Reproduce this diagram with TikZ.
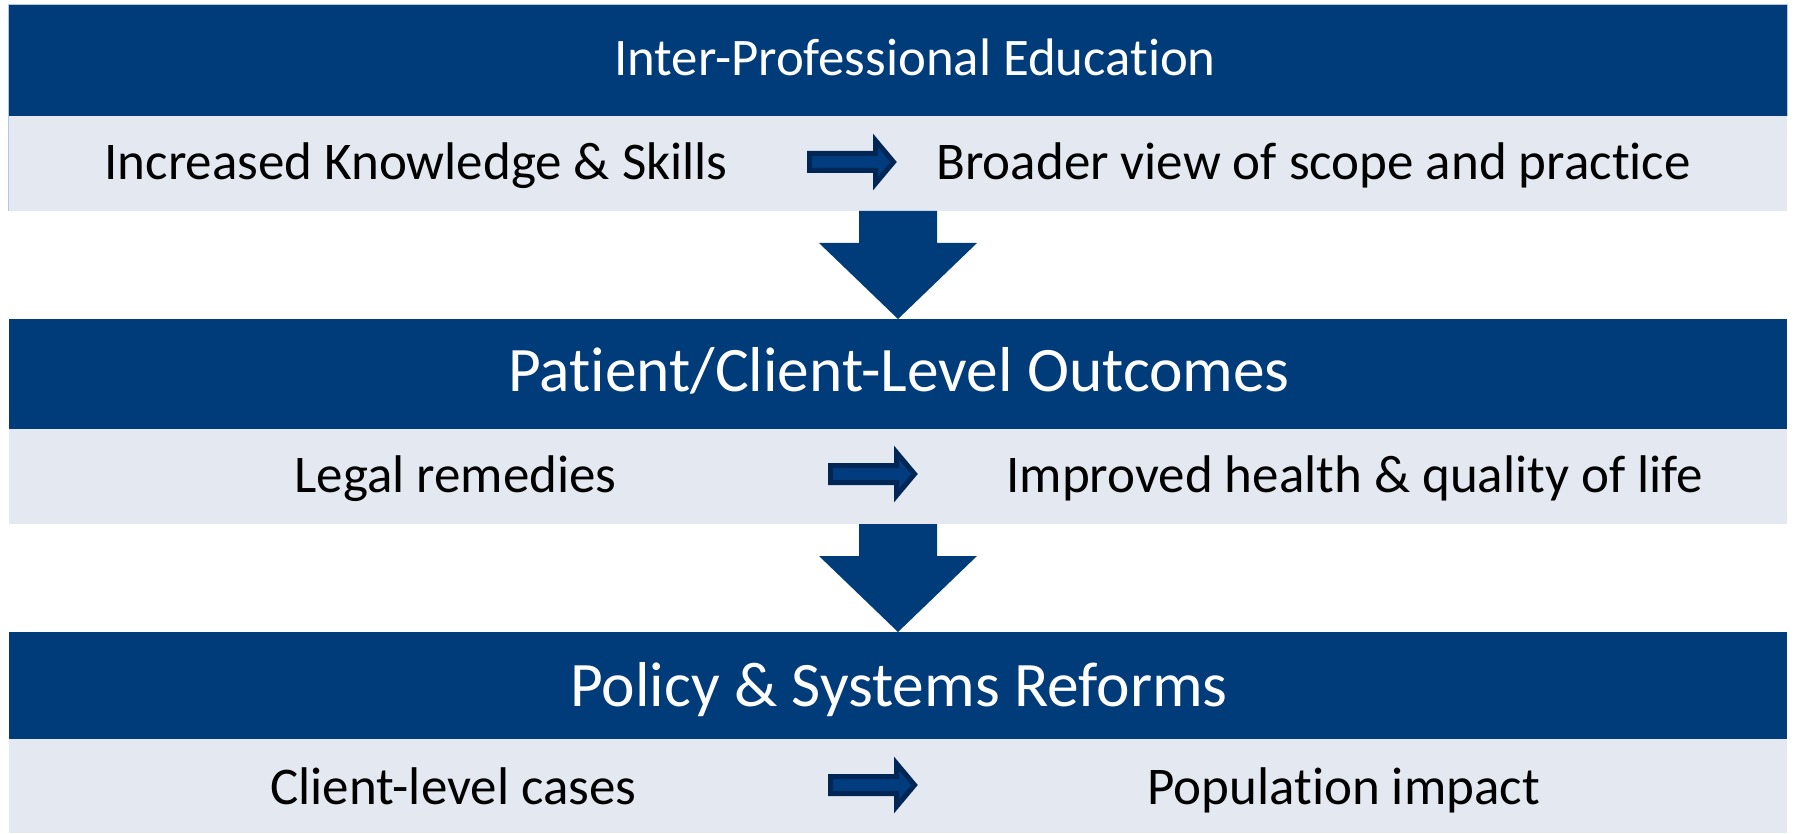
\documentclass[tikz,border=0pt]{standalone}
\usepackage{fontspec}
\setmainfont{Carlito}[RawFeature={-liga;-clig;-calt;-dlig}]
\definecolor{navy}{RGB}{0,59,122}
\definecolor{paleband}{RGB}{228,233,241}
\definecolor{arrowfill}{RGB}{0,60,126}
\definecolor{arrowedge}{RGB}{0,38,86}
\definecolor{frameline}{RGB}{182,198,224}
\begin{document}
\begin{tikzpicture}[x={(0.5pt,0pt)},y={(0pt,-0.5pt)},
  darkband/.style={fill=navy,draw=none,inner sep=0pt,outer sep=0pt,minimum width=889pt},
  paleband/.style={fill=paleband,draw=none,inner sep=0pt,outer sep=0pt,minimum width=889pt,minimum height=47.5pt},
  headtext/.style={text=white,anchor=base,inner sep=0pt,font=\fontsize{31.7pt}{36pt}\selectfont},
  toptext/.style={text=white,anchor=base,inner sep=0pt,font=\fontsize{26.4pt}{30pt}\selectfont},
  bodytext/.style={text=black,anchor=base west,inner sep=0pt,font=\fontsize{26.5pt}{30pt}\selectfont},
  darrow/.pic={\fill[navy] (-39,0) -- (-39,32) -- (-79,32) -- (0,108) -- (79,32) -- (39,32) -- (39,0) -- cycle;},
  rarrow/.pic={\draw[fill=arrowfill,draw=arrowedge,line width=2.5pt]
     (0,-8.5) -- (66,-8.5) -- (66,-21.5) -- (84,0) -- (66,21.5) -- (66,8.5) -- (0,8.5) -- cycle;}]
\useasboundingbox (0,0) rectangle (1794,834);
\fill[white] (0,0) rectangle (1794,834);

% three stacked rows: heading band over a pale band
\node[darkband,minimum height=55.5pt] (d1) at (898,60.5) {};
\node[paleband] (l1) at (898,163.5) {};
\node[darkband,minimum height=55pt] (d2) at (898,374) {};
\node[paleband] (l2) at (898,476.5) {};
\node[darkband,minimum height=53.5pt] (d3) at (898,685.5) {};
\node[paleband,minimum height=47pt] (l3) at (898,786) {};

% thin frame round the first row
\draw[frameline,line width=0.5pt] (8.5,211) -- (8.5,4.5) -- (1787.5,4.5) -- (1787.5,116);

% headings
\node[toptext] (h1) at (915,76) {Inter-Professional Education};
\node[headtext] (h2) at (899,392) {Patient/Client-Level Outcomes};
\node[headtext] (h3) at (899,706) {Policy \& Systems Reforms};

% row items
\node[bodytext] (a1) at (104,180) {Increased Knowledge \& Skills};
\node[bodytext] (b1) at (936,180) {Broader view of scope and practice};
\node[bodytext] (a2) at (294,492) {Legal remedies};
\node[bodytext] (b2) at (1006,492) {Improved health \& quality of life};
\node[bodytext] (a3) at (270,804) {Client-level cases};
\node[bodytext] (b3) at (1147,804) {Population impact};

% small arrows between the items of each row
\pic at (809.5,162) {rarrow};
\pic at (830.5,474) {rarrow};
\pic at (830.5,785) {rarrow};

% block arrows from row to row
\pic at (l1.south) {darrow};
\pic at (l2.south) {darrow};
\end{tikzpicture}
\end{document}
